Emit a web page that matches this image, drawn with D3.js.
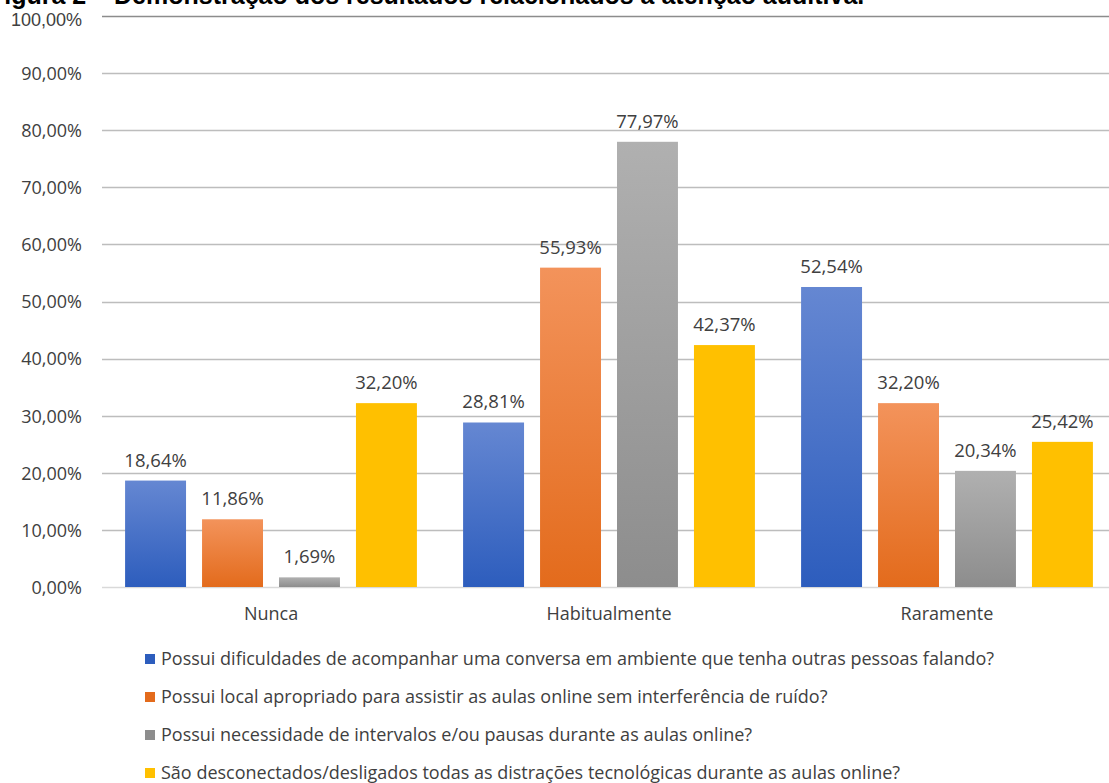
<!DOCTYPE html>
<html>
<head>
<meta charset="utf-8">
<script src="https://cdn.jsdelivr.net/npm/d3@7"></script>
<style>
  html, body { margin: 0; padding: 0; background: #fff; overflow: hidden; }
  svg { display: block; }
</style>
</head>
<body>
<svg id="chart" width="1109" height="783"></svg>
<script>
// Response categories and the four survey questions
const categories = ["Nunca", "Habitualmente", "Raramente"];
const seriesNames = [
  "Possui dificuldades de acompanhar uma conversa em ambiente que tenha outras pessoas falando?",
  "Possui local apropriado para assistir as aulas online sem interferência de ruído?",
  "Possui necessidade de intervalos e/ou pausas durante as aulas online?",
  "São desconectados/desligados todas as distrações tecnológicas durante as aulas online?"
];
// Percentages per series, in category order
const dificuldades = [18.64, 28.81, 52.54];
const localApropriado = [11.86, 55.93, 32.20];
const intervalos = [1.69, 77.97, 20.34];
const desconectados = [32.20, 42.37, 25.42];
const yTicks = [0, 10, 20, 30, 40, 50, 60, 70, 80, 90, 100];
const titleText = "Figura 2 – Demonstração dos resultados relacionados à atenção auditiva.";

const seriesValues = [dificuldades, localApropriado, intervalos, desconectados];
const fills = [
  ["#6587d2", "#2d5dbd"],
  ["#f3935b", "#e36b1c"],
  ["#b0b0b0", "#8d8d8d"],
  ["#ffc000", "#ffc000"]
];

const svg = d3.select("#chart");
const fontMain = "'Open Sans', Lato, sans-serif";
const fmt = v => v.toFixed(2).replace(".", ",") + "%";

// gradients
const defs = svg.append("defs");
fills.forEach((c, i) => {
  const g = defs.append("linearGradient")
    .attr("id", "grad" + i).attr("x1", 0).attr("y1", 0).attr("x2", 0).attr("y2", 1);
  g.append("stop").attr("offset", "0%").attr("stop-color", c[0]);
  g.append("stop").attr("offset", "100%").attr("stop-color", c[1]);
});

// title (partly above the page top)
svg.append("text")
  .attr("x", -11).attr("y", 4)
  .attr("font-family", "'Liberation Sans', Arial, sans-serif")
  .attr("font-weight", "bold").attr("font-size", 25)
  .attr("fill", "#000")
  .text(titleText);

const plot = { left: 102, right: 1116, top: 16, bottom: 587 };

const y = d3.scaleLinear().domain([0, 100]).range([plot.bottom, plot.top]);
const x0 = d3.scaleBand().domain(categories).range([plot.left, plot.right]).padding(0);
const x1 = d3.scaleBand().domain(d3.range(seriesNames.length))
  .range([0, x0.bandwidth()]).paddingInner(0.208).paddingOuter(0.3);

// gridlines
svg.append("g").selectAll("line").data(yTicks).join("line")
  .attr("x1", plot.left).attr("x2", 1109)
  .attr("y1", d => Math.round(y(d)) + 0.5).attr("y2", d => Math.round(y(d)) + 0.5)
  .attr("stroke", d => d === 100 ? "#8c8c8c" : (d === 0 ? "#d9d9d9" : "#bdbdbd"))
  .attr("stroke-width", 1.3);

// y axis labels
const yAxis = d3.axisLeft(y).tickValues(yTicks).tickSize(0).tickPadding(0)
  .tickFormat(d => d.toFixed(2).replace(".", ",") + "%");
const yg = svg.append("g").attr("transform", "translate(82,0)").call(yAxis);
yg.select(".domain").remove();
yg.selectAll("text")
  .attr("font-family", d => d === 100 ? "'Liberation Sans', Arial, sans-serif" : fontMain)
  .attr("font-size", 18).attr("fill", "#404040")
  .attr("dy", d => d === 100 ? "0.5em" : "0.35em");

// bars
const groups = svg.append("g").selectAll("g").data(categories).join("g")
  .attr("transform", d => `translate(${x0(d)},0)`);

groups.each(function(cat, ci) {
  const g = d3.select(this);
  seriesValues.forEach((vals, si) => {
    const v = vals[ci];
    g.append("rect")
      .attr("x", x1(si)).attr("width", x1.bandwidth())
      .attr("y", y(v)).attr("height", y(0) - y(v))
      .attr("fill", `url(#grad${si})`);
    g.append("text")
      .attr("x", x1(si) + x1.bandwidth() / 2)
      .attr("y", y(v) - 14)
      .attr("text-anchor", "middle")
      .attr("font-family", fontMain).attr("font-size", 18.5)
      .attr("fill", "#404040")
      .text(fmt(v));
  });
});

// category labels
const xAxis = d3.axisBottom(x0).tickSize(0).tickPadding(0);
const xg = svg.append("g").attr("transform", `translate(0,${plot.bottom})`).call(xAxis);
xg.select(".domain").remove();
xg.selectAll("text")
  .attr("y", 33).attr("dy", 0)
  .attr("font-family", fontMain).attr("font-size", 18).attr("fill", "#404040");

// legend
const legend = svg.append("g").selectAll("g").data(seriesNames).join("g")
  .attr("transform", (d, i) => `translate(145,${659 + i * 38})`);
legend.append("rect")
  .attr("x", 0).attr("y", -5).attr("width", 10).attr("height", 10)
  .attr("fill", (d, i) => fills[i][1]);
legend.append("text")
  .attr("x", 16).attr("y", 6)
  .attr("font-family", fontMain).attr("font-size", 18).attr("fill", "#404040")
  .text(d => d);
</script>
</body>
</html>
